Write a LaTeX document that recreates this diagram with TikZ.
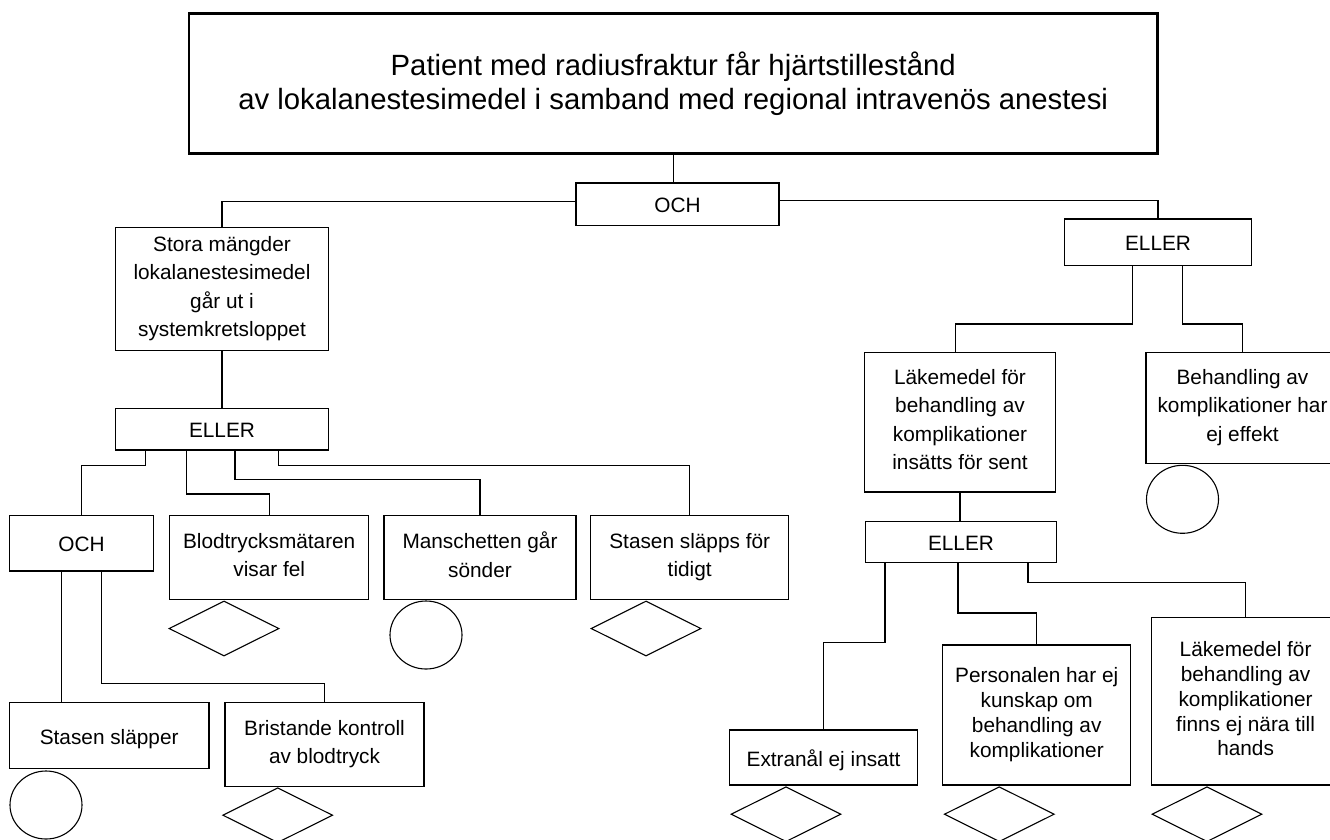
\documentclass[tikz,border=0pt]{standalone}
\usepackage{fontspec}
\setmainfont{Liberation Sans}
\usetikzlibrary{shapes.geometric,calc}
\newcommand\boxstrut{\rule[-0.2\baselineskip]{0pt}{\baselineskip}}
\begin{document}
\begin{tikzpicture}[x=1pt,y=-1pt,
  box/.style={draw,line width=1.3pt,rectangle,inner sep=0pt,align=center,
    font=\fontsize{20.8}{28.3}\selectfont,
    execute at begin node={\boxstrut},execute at end node={\boxstrut}},
  tightbox/.style={box,font=\fontsize{20.8}{24.8}\selectfont},
  titlebox/.style={draw,line width=2.6pt,rectangle,inner sep=0pt,align=center,
    font=\fontsize{29.3}{34.5}\selectfont},
  conn/.style={line width=1.3pt},
  basic/.style={diamond,draw,line width=1.1pt,inner sep=0pt,minimum width=110pt,minimum height=55pt},
  undev/.style={ellipse,draw,line width=1.1pt,inner sep=0pt,minimum width=72pt,minimum height=68pt}]
\useasboundingbox (0,0) rectangle (1330,839);
\fill[white] (0,0) rectangle (1330,839);

% boxes
\node[titlebox,minimum width=968.5pt,minimum height=140pt] (title) at (673.25,83.5)
  {Patient med radiusfraktur får hjärtstillestånd\\av lokalanestesimedel i samband med regional intravenös anestesi};
\node[box,minimum width=203pt,minimum height=42.5pt] (och1) at (677.5,204.2) {OCH};
\node[box,minimum width=213pt,minimum height=123pt] (stora) at (222,289.3)
  {Stora mängder\\lokalanestesimedel\\går ut i\\systemkretsloppet};
\node[box,minimum width=213pt,minimum height=41.3pt] (eller1) at (222,429.3) {ELLER};
\node[box,minimum width=186.4pt,minimum height=46.7pt] (eller2) at (1158,242.3) {ELLER};
\node[box,minimum width=190.5pt,minimum height=139.7pt] (lak1) at (960,422.2)
  {Läkemedel för\\behandling av\\komplikationer\\insätts för sent};
\node[box,minimum width=193pt,minimum height=111.4pt] (beh) at (1242.5,408)
  {Behandling av\\komplikationer har\\ej effekt};
\node[box,minimum width=191pt,minimum height=41pt] (eller3) at (961,542.2) {ELLER};
\node[box,minimum width=144.2pt,minimum height=55.3pt] (och2) at (81.5,543.3) {OCH};
\node[box,minimum width=199.2pt,minimum height=83.6pt] (blod) at (269.2,557.5)
  {Blodtrycksmätaren\\visar fel};
\node[box,minimum width=192pt,minimum height=83.6pt] (mans) at (480,557.5)
  {Manschetten går\\sönder};
\node[box,minimum width=198.2pt,minimum height=83.6pt] (stas1) at (689.7,557.5)
  {Stasen släpps för\\tidigt};
\node[box,minimum width=199.6pt,minimum height=65.6pt] (stas2) at (109.2,735.5)
  {Stasen släpper};
\node[box,minimum width=199pt,minimum height=84pt] (brist) at (324.5,744.7)
  {Bristande kontroll\\av blodtryck};
\node[box,minimum width=188.5pt,minimum height=55pt] (extra) at (823.5,757.5)
  {Extranål ej insatt};
\node[tightbox,minimum width=188pt,minimum height=140pt] (pers) at (1036.7,715)
  {Personalen har ej\\kunskap om\\behandling av\\komplikationer};
\node[tightbox,minimum width=188pt,minimum height=167.7pt] (lak2) at (1245.6,701.2)
  {Läkemedel för\\behandling av\\komplikationer\\finns ej nära till\\hands};

% symbols
\node[basic] (dblod) at (224,628.5) {};
\node[basic] (dstas1) at (646,628.5) {};
\node[basic] (dbrist) at (277.7,815.2) {};
\node[basic] (dextra) at (786,814.2) {};
\node[basic] (dpers) at (999.3,814.2) {};
\node[basic] (dlak2) at (1207,814.2) {};
\node[undev] (cmans) at (426,635) {};
\node[undev] (cstas2) at (46,805) {};
\node[undev] (cbeh) at (1182.5,499.3) {};

% connectors
\draw[conn] (title.south) -- (title.south |- och1.north);
\draw[conn] ($(och1.west)+(0,-2.5)$) -| (stora.north);
\draw[conn] ($(och1.east)+(0,-3.5)$) -| (eller2.north);
\draw[conn] (stora.south) -- (eller1.north);

\coordinate (e1a) at ($(eller1.south west)+(30.4,0)$);
\coordinate (e1b) at ($(eller1.south west)+(71.9,0)$);
\coordinate (e1c) at ($(eller1.south west)+(120.1,0)$);
\coordinate (e1d) at ($(eller1.south west)+(163.4,0)$);
\draw[conn] (e1a) -- ++(0,15) -| (och2.north);
\draw[conn] (e1b) -- ++(0,43.3) -| (blod.north);
\draw[conn] (e1c) -- ++(0,29) -| (mans.north);
\draw[conn] (e1d) -- ++(0,15) -| (stas1.north);

\coordinate (o2a) at ($(och2.south west)+(52.6,0)$);
\coordinate (o2b) at ($(och2.south west)+(92.8,0)$);
\draw[conn] (o2a) -- (o2a |- stas2.north);
\draw[conn] (o2b) -- ++(0,111.7) -| (brist.north);

\coordinate (e2a) at ($(eller2.south west)+(68.2,0)$);
\coordinate (e2b) at ($(eller2.south west)+(118.2,0)$);
\draw[conn] (e2a) -- ++(0,57.6) -| ($(lak1.north)+(-4.5,0)$);
\draw[conn] (e2b) -- ++(0,57.6) -| (beh.north);
\draw[conn] (lak1.south) -- (lak1.south |- eller3.north);

\coordinate (e3a) at ($(eller3.south west)+(20.1,0)$);
\coordinate (e3b) at ($(eller3.south west)+(93.2,0)$);
\coordinate (e3c) at ($(eller3.south west)+(163.1,0)$);
\draw[conn] (e3a) -- ++(0,79) -| (extra.north);
\draw[conn] (e3b) -- ++(0,49.6) -| (pers.north);
\draw[conn] (e3c) -- ++(0,19.3) -| (lak2.north);
\end{tikzpicture}
\end{document}
